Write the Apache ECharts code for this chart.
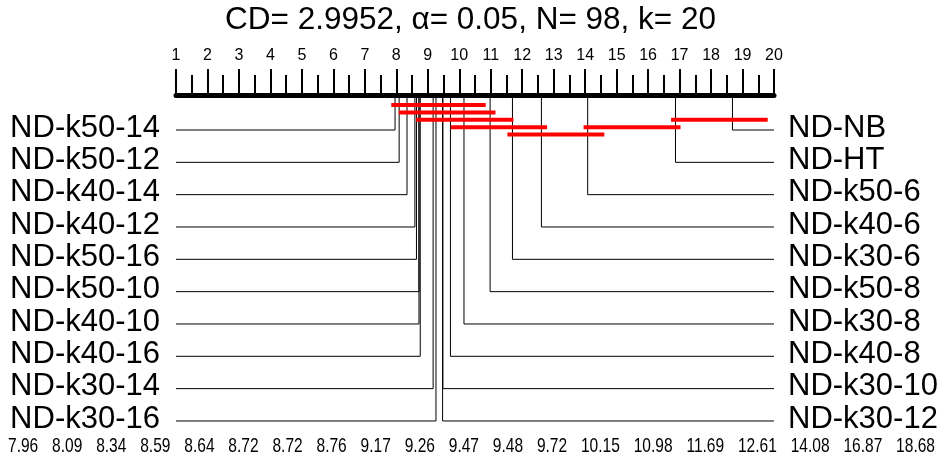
<!DOCTYPE html>
<html><head><meta charset="utf-8">
<script src="https://cdn.jsdelivr.net/npm/echarts@6/dist/echarts.min.js"></script>
<style>html,body{margin:0;padding:0;background:#fff}#c{width:941px;height:468px}</style>
</head><body><div id="c"></div>
<script>
// ---- data ----
const cdValue = 2.9952, alphaValue = 0.05, nDatasets = 98, kModels = 20;
const rankMin = 1, rankMax = 20;
const leftNames = ['ND-k50-14','ND-k50-12','ND-k40-14','ND-k40-12','ND-k50-16','ND-k50-10','ND-k40-10','ND-k40-16','ND-k30-14','ND-k30-16'];
const leftRanks = [7.96, 8.09, 8.34, 8.59, 8.64, 8.72, 8.72, 8.76, 9.17, 9.26];
const rightNames = ['ND-NB','ND-HT','ND-k50-6','ND-k40-6','ND-k30-6','ND-k50-8','ND-k30-8','ND-k40-8','ND-k30-10','ND-k30-12'];
const rightRanks = [18.68, 16.87, 14.08, 12.61, 11.69, 10.98, 10.15, 9.72, 9.48, 9.47];
const cliqueStart = [7.84, 8.08, 8.63, 9.73, 11.53, 13.95, 16.73];
const cliqueEnd   = [10.84, 11.15, 11.72, 12.79, 14.61, 17.03, 19.80];
const cliqueLevel = [0, 1, 2, 3, 4, 3, 2];

// ---- layout ----
const FONT = '"Liberation Sans", Arial, sans-serif';
const ROW0 = 35, ROWSTEP = 32.33, BAR0 = 10, BARSTEP = 7.4;

const modelNames = leftNames.concat(rightNames);
const modelData = [];
leftRanks.forEach((r, i) => modelData.push([r, i, 0]));
rightRanks.forEach((r, i) => modelData.push([r, i, 1]));
const cliqueData = cliqueStart.map((s, i) => [s, cliqueEnd[i], cliqueLevel[i]]);
const allRanks = leftRanks.concat(rightRanks).slice().sort((a, b) => a - b);

// bottom row of average ranks (condensed look), spread across the width
const rankTexts = allRanks.map(v => v.toFixed(2));
const numSize = 21;
const numScale = 0.74;
const mctx = document.createElement('canvas').getContext('2d');
mctx.font = numSize + 'px ' + FONT;
const widths = rankTexts.map(t => mctx.measureText(t).width * numScale);
const spanLeft = 8, spanRight = 935;
const gap = (spanRight - spanLeft - widths.reduce((a, b) => a + b, 0)) / (rankTexts.length - 1);
const bottomTexts = [];
let cx = spanLeft;
rankTexts.forEach((t, i) => {
  bottomTexts.push({type: 'text', x: cx, y: 446, scaleX: numScale,
    style: {text: t, fontSize: numSize, fontFamily: FONT, fill: '#000',
            verticalAlign: 'middle', textVerticalAlign: 'middle'}});
  cx += widths[i] + gap;
});

const chart = echarts.init(document.getElementById('c'), null, {renderer: 'canvas'});
chart.setOption({
  animation: false,
  backgroundColor: '#fff',
  title: {
    text: 'CD= ' + cdValue + ', α= ' + alphaValue + ', N= ' + nDatasets + ', k= ' + kModels,
    left: 'center', top: -1,
    textStyle: {fontFamily: FONT, fontSize: 31.5, fontWeight: 'normal', color: '#000'}
  },
  grid: {left: 176, right: 167, top: 95, bottom: 0},
  xAxis: {
    type: 'value', min: rankMin, max: rankMax, interval: 1, position: 'top',
    axisLine: {lineStyle: {color: '#000', width: 5}},
    axisTick: {length: 26, lineStyle: {color: '#000', width: 2}},
    minorTick: {show: true, splitNumber: 2, length: 20, lineStyle: {color: '#000', width: 2}},
    axisLabel: {margin: 31, fontFamily: FONT, fontSize: 16, color: '#000'},
    splitLine: {show: false}, minorSplitLine: {show: false}
  },
  yAxis: {type: 'value', min: 0, max: 373, inverse: true, show: false},
  graphic: bottomTexts,
  series: [{
    type: 'custom',
    data: modelData,
    renderItem: function (params, api) {
      const r = api.value(0), row = api.value(1), side = api.value(2);
      const y = ROW0 + ROWSTEP * row;
      const p0 = api.coord([r, 0]);
      const p1 = api.coord([r, y]);
      const p2 = api.coord([side ? rankMax : rankMin, y]);
      const name = modelNames[params.dataIndex];
      return {type: 'group', children: [
        {type: 'polyline', shape: {points: [p0, p1, p2]}, style: {stroke: '#000', lineWidth: 1, fill: null}},
        {type: 'text', style: {
          text: name, x: side ? p2[0] + 14 : p2[0] - 16, y: p1[1] - 2,
          align: side ? 'left' : 'right', textAlign: side ? 'left' : 'right',
          verticalAlign: 'middle', textVerticalAlign: 'middle',
          font: '31px ' + FONT, fill: '#000'
        }}
      ]};
    }
  }, {
    type: 'custom',
    data: cliqueData,
    renderItem: function (params, api) {
      const y = BAR0 + BARSTEP * api.value(2);
      const s = api.coord([api.value(0), y]);
      const e = api.coord([api.value(1), y]);
      return {type: 'line', shape: {x1: s[0], y1: s[1], x2: e[0], y2: e[1]},
              style: {stroke: '#ff0000', lineWidth: 4}};
    }
  }]
});
</script>
</body></html>
